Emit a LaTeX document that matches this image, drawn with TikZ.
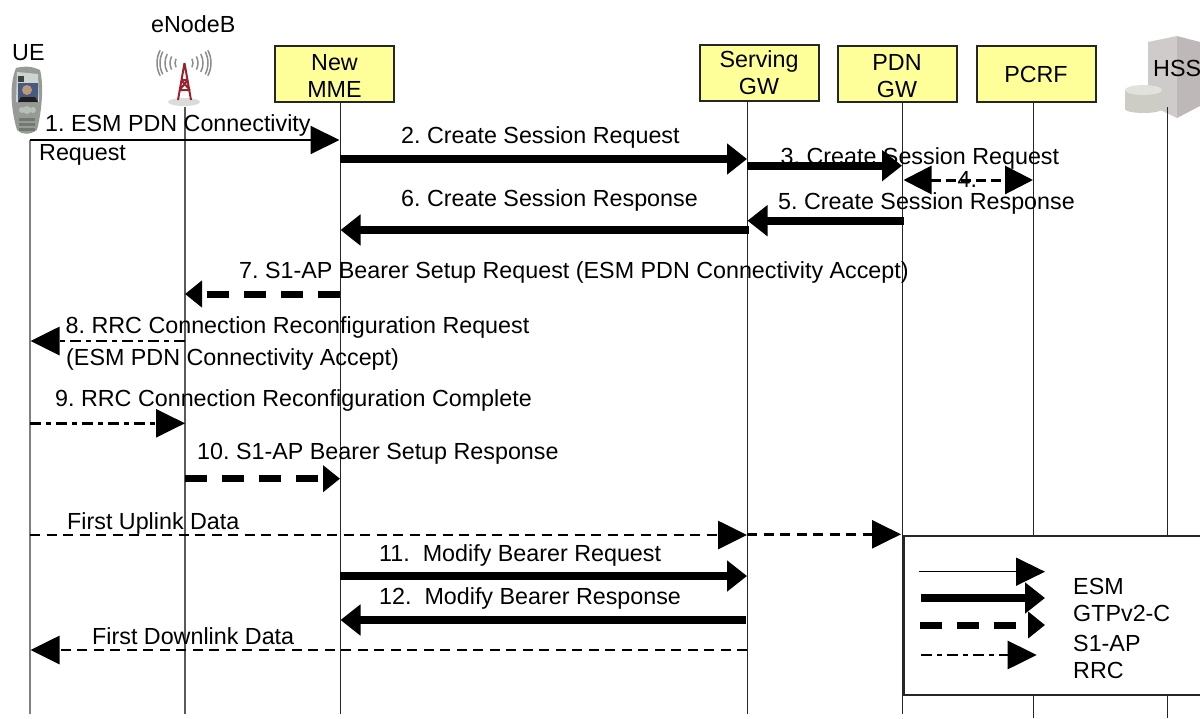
\documentclass[tikz,border=0pt]{standalone}
\usepackage{fontspec}
\setmainfont{Liberation Sans}
\frenchspacing
\usetikzlibrary{arrows.meta}
\definecolor{boxy}{RGB}{255,255,153}
\tikzset{
 x=1pt,y=-1pt,
 fnt/.style={font=\fontsize{23.3pt}{27.5pt}\selectfont\frenchspacing},
 actor/.style={draw=black!85,line width=2pt,fill=boxy,minimum width=119pt,minimum height=56pt,align=center,inner sep=0pt,fnt},
 life/.style={line width=1pt,black!85},
 lab/.style={anchor=base west,inner sep=0pt,align=left,fnt},
 esm/.style={-{Triangle[length=29pt,width=28pt]},line width=2pt},
 gtp/.style={-{Triangle[length=20pt,width=30pt]},line width=8pt},
 sap/.style={-{Triangle[length=17pt,width=26pt]},line width=7pt,dash pattern=on 22pt off 15pt},
 rrc/.style={-{Triangle[length=29pt,width=28pt]},line width=2.8pt,dash pattern=on 11pt off 5pt on 5pt off 5pt},
 data/.style={-{Triangle[length=29pt,width=28pt]},line width=2.8pt,dash pattern=on 10pt off 6.5pt},
 sd4/.style={{Triangle[length=28pt,width=28pt]}-{Triangle[length=28pt,width=28pt]},line width=3pt,dash pattern=on 10pt off 5pt},
}
\begin{document}
\begin{tikzpicture}
\useasboundingbox (0,0) rectangle (1200,718);
% HSS picture
\fill[fill={rgb,255:red,208;green,203;blue,203}] (1148,42) -- (1177,36) -- (1177,118) -- (1148,104) -- cycle;
\fill[fill={rgb,255:red,190;green,184;blue,184}] (1177,36) -- (1200,42) -- (1200,106) -- (1177,118) -- cycle;
\fill[fill={rgb,255:red,205;green,205;blue,198}] (1125,90) -- (1162,90) -- (1162,109) arc (0:-180:18.5pt and 4pt) -- cycle;
\fill[fill={rgb,255:red,226;green,226;blue,220}] (1143.5,90) ellipse (18.5pt and 5pt);
% lifelines
\node[actor] (mme) at (334.5,74) {\rule{0pt}{20pt}New\\MME};
\node[actor] (sgw) at (759,72.5) {Serving\\GW};
\node[actor] (pgw) at (897,74) {\rule{0pt}{20pt}PDN\\GW};
\node[actor] (pcrf) at (1036,74) {PCRF};
\coordinate (ueT) at (30,140); \coordinate (ueB) at (30,714);
\coordinate (enbT) at (185,107); \coordinate (enbB) at (185,714);
\coordinate (mmeB) at (340.5,714); \coordinate (mmeT) at (340.5,103);
\coordinate (sgwT) at (747.3,101); \coordinate (sgwB) at (747.3,714);
\coordinate (pgwT) at (902.5,103); \coordinate (pgwB) at (902.5,714);
\coordinate (pcrfT) at (1033.5,103); \coordinate (pcrfB) at (1033.5,718);
\coordinate (hssT) at (1167,107); \coordinate (hssB) at (1167,718);
\draw[line width=1.8pt,black!50] (ueT)--(ueB);
\draw[line width=1.3pt,black!65] (enbT)--(enbB);
\draw[life] (mmeT)--(mmeB);
\draw[life] (sgwT)--(sgwB);
\draw[life] (pgwT)--(pgwB);
\draw[life] (pcrfT)--(pcrfB);
\draw[life] (hssT)--(hssB);
% phone
\fill[fill={rgb,255:red,150;green,155;blue,150}] (16,68) .. controls (24,66) and (32,66) .. (40,70) .. controls (44,85) and (42,110) .. (37,130) .. controls (30,135) and (22,135) .. (17,130) .. controls (11,110) and (9,85) .. (16,68) -- cycle;
\fill[fill={rgb,255:red,205;green,212;blue,210}] (17,72) -- (38,74) -- (39,102) -- (16,102) -- cycle;
\fill[fill={rgb,255:red,70;green,90;blue,130}] (18,83) rectangle (38,102);
\fill[fill={rgb,255:red,190;green,150;blue,120}] (27,90) circle (5pt);
\fill[fill={rgb,255:red,35;green,30;blue,30}] (18,102) -- (21,97) -- (35,97) -- (38,102) -- cycle;
\fill[fill={rgb,255:red,60;green,65;blue,65}] (18,76) rectangle (24,82);
\fill[fill={rgb,255:red,185;green,190;blue,185}] (22,110) ellipse (3pt and 3pt) (33,110) ellipse (3pt and 3pt) (27,110) ellipse (4pt and 4pt);
\foreach \yy in {118,123,128}{\fill[fill={rgb,255:red,115;green,120;blue,115}] (19,\yy) rectangle (35,\yy+2.5);}
% tower
\fill[black!14] (184,102) ellipse (16pt and 4pt);
\foreach \r in {9,14,19,24,27}{
 \draw[black!45,line width=1.5pt] (184,63) ++(28:\r) arc (28:-28:\r);
 \draw[black!45,line width=1.5pt] (184,63) ++(152:\r) arc (152:208:\r);
}
\draw[draw={rgb,255:red,150;green,35;blue,45},line width=2pt] (184.5,63) -- (178,100) (184.5,63) -- (191,100) (181,80)--(188,80) (179.5,90)--(190,90) (181,80)--(190,90) (188,80)--(179.5,90);
% messages
\coordinate (m1a) at (30,140); \coordinate (m1b) at (339.5,140);
\coordinate (m2a) at (340,159); \coordinate (m2b) at (747,159);
\coordinate (m3a) at (747,165.7); \coordinate (m3b) at (902,165.7);
\coordinate (m4a) at (903.5,180); \coordinate (m4b) at (1033,180);
\coordinate (m5a) at (904,220.7); \coordinate (m5b) at (747.5,220.7);
\coordinate (m6a) at (749,230); \coordinate (m6b) at (340.5,230);
\coordinate (m7a) at (340,294); \coordinate (m7b) at (185,294);
\coordinate (m8a) at (185,341); \coordinate (m8b) at (30.5,341);
\coordinate (m9a) at (30,423.3); \coordinate (m9b) at (185,423.3);
\coordinate (m10a) at (185,478.7); \coordinate (m10b) at (340,478.7);
\coordinate (d1a) at (30,535); \coordinate (d1b) at (747,535);
\coordinate (d2a) at (747,534.3); \coordinate (d2b) at (901,534.3);
\coordinate (m11a) at (340,576); \coordinate (m11b) at (747,576);
\coordinate (m12a) at (746,620); \coordinate (m12b) at (340.5,620);
\coordinate (d3a) at (747,650); \coordinate (d3b) at (30.5,650);
\draw[esm] (m1a)--(m1b);
\draw[gtp] (m2a)--(m2b);
\draw[gtp] (m3a)--(m3b);
\draw[sd4] (m4a)--(m4b);
\draw[gtp] (m5a)--(m5b);
\draw[gtp] (m6a)--(m6b);
\draw[sap] (m7a)--(m7b);
\draw[rrc] (m8a)--(m8b);
\draw[rrc] (m9a)--(m9b);
\draw[sap] (m10a)--(m10b);
\draw[data] (d1a)--(d1b);
\draw[data] (d2a)--(d2b);
\draw[gtp] (m11a)--(m11b);
\draw[gtp] (m12a)--(m12b);
\draw[data] (d3a)--(d3b);
% labels
\node[lab] (ueL) at (12,60) {UE};
\node[lab] (enbL) at (151,32.5) {eNodeB};
\node[lab] (hssL) at (1153,76) {HSS};
\node[lab] (t1) at (45,131) {1. ESM PDN Connectivity};
\node[lab] (t1b) at (39,160) {Request};
\node[lab] (t2) at (401,143) {2. Create Session Request};
\node[lab] (t3) at (780.5,164) {3. Create Session Request};
\node[lab] (t4) at (957.5,187) {4.};
\node[lab] (t5) at (778,209) {5. Create Session Response};
\node[lab] (t6) at (401,206.5) {6. Create Session Response};
\node[lab] (t7) at (239,278) {7. S1-AP Bearer Setup Request (ESM PDN Connectivity Accept)};
\node[lab] (t8) at (65.5,333.5) {8. RRC Connection Reconfiguration Request};
\node[lab] (t8b) at (66,365) {(ESM PDN Connectivity Accept)};
\node[lab] (t9) at (55,406.5) {9. RRC Connection Reconfiguration Complete};
\node[lab] (t10) at (197,459) {10. S1-AP Bearer Setup Response};
\node[lab] (t11) at (67,529) {First Uplink Data};
\node[lab] (t12) at (379,561) {11.\ \ Modify Bearer Request};
\node[lab] (t13) at (379,604) {12.\ \ Modify Bearer Response};
\node[lab] (t14) at (92,644.5) {First Downlink Data};
% legend
\node[draw=black!85,line width=2pt,fill=white,minimum width=310pt,minimum height=159pt,inner sep=0pt,anchor=north west] (leg) at (902.5,535) {};
\coordinate (l1a) at (919,571.7); \coordinate (l1b) at (1045,571.7);
\coordinate (l2a) at (921,598); \coordinate (l2b) at (1045,598);
\coordinate (l3a) at (920,625); \coordinate (l3b) at (1045,625);
\coordinate (l4a) at (921,655); \coordinate (l4b) at (1036.7,655);
\draw[esm,line width=1.5pt] (l1a)--(l1b);
\draw[gtp] (l2a)--(l2b);
\draw[sap] (l3a)--(l3b);
\draw[rrc] (l4a)--(l4b);
\node[lab] (lt1) at (1073,594) {ESM};
\node[lab] (lt2) at (1073,621.7) {GTPv2-C};
\node[lab] (lt3) at (1073,651.7) {S1-AP};
\node[lab] (lt4) at (1073,678) {RRC};
\end{tikzpicture}
\end{document}
